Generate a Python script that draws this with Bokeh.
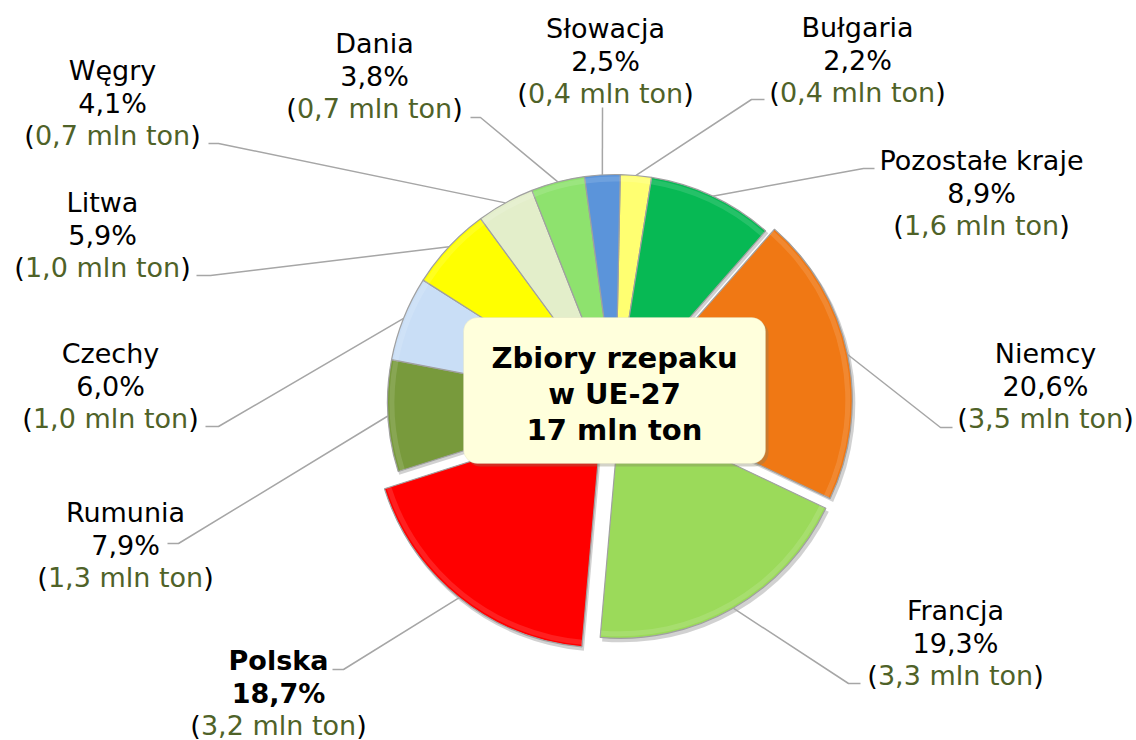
import numpy as np
from bokeh.plotting import figure
from bokeh.models import Range1d, BoxAnnotation, ColumnDataSource
from bokeh.core.properties import value
from bokeh.embed import file_html
from bokeh.resources import INLINE

# ---------------- data ----------------
countries = ["Bułgaria", "Pozostałe kraje", "Niemcy", "Francja", "Polska",
             "Rumunia", "Czechy", "Litwa", "Węgry", "Dania", "Słowacja"]
shares = [2.2, 8.9, 20.6, 19.3, 18.7, 7.9, 6.0, 5.9, 4.1, 3.8, 2.5]
tons = [0.4, 1.6, 3.5, 3.3, 3.2, 1.3, 1.0, 1.0, 0.7, 0.7, 0.4]
title_lines = ["Zbiory rzepaku", "w UE-27", "17 mln ton"]

# ---------------- styles ----------------
colors = ["#FFFF71", "#07B954", "#F07814", "#9BDA5A", "#FF0000",
          "#789A3C", "#C9DEF6", "#FFFF00", "#E3EECA", "#8EE26E", "#5B94DA"]
explode = [0, 0, 9, 9, 22, 0, 0, 0, 0, 0, 0]
bold_head = [False, False, False, False, True, False, False, False, False, False, False]

# ---------------- layout (reference pixel space) ----------------
W_PX, H = 1136, 740
CX, CY, R = 615, 402, 228
ROT = 1.2
FS = 27
LS = 32.5
label_x = [857, 981, 1045, 955, 278, 125, 110, 102, 112, 374, 605]
label_y = [27, 160, 353, 610, 660, 512, 353, 202, 70, 43, 28]
lead_start = [(764, 99), (874, 168), (952, 427), (860, 683), (332, 669), (167, 543),
              (205, 426), (196, 275), (208, 143), (470, 117), (602, 107)]
lead_elbow = [(751, 99), (863, 168), (940, 427), (848, 683), (343, 669), (178, 543),
              (218, 426), (210, 275), (218, 143), (480, 117), (602, 107)]

# DejaVu Sans advance widths (em)
ADV = {"0": .636, "1": .636, "2": .636, "3": .636, "4": .636, "5": .636, "6": .636,
       "7": .636, "8": .636, "9": .636, ",": .318, " ": .318, "m": .974, "l": .278,
       "n": .634, "t": .392, "o": .612, "(": .390, ")": .390}


def tw(s):
    return sum(ADV.get(c, .6) for c in s) * FS


def Y(v):
    return H - v


p = figure(width=W_PX, height=H, output_backend="svg", toolbar_location=None,
           x_range=Range1d(0, W_PX), y_range=Range1d(0, H), min_border=0)
p.axis.visible = False
p.grid.visible = False
p.outline_line_color = None
p.background_fill_color = "white"

# ---- pie geometry from data ----
sh = np.array(shares, dtype=float)
cum = np.concatenate([[0], np.cumsum(sh)]) / sh.sum() * 360.0 + ROT
t0, t1 = cum[:-1], cum[1:]
mid = np.radians((t0 + t1) / 2)
ex = np.array(explode, dtype=float)
ax = CX + ex * np.sin(mid)
ay = Y(CY) + ex * np.cos(mid)
src = ColumnDataSource(dict(x=ax, y=ay, sa=np.radians(90 - t1), ea=np.radians(90 - t0),
                            c=colors))
sh_src = ColumnDataSource(dict(x=ax + 2, y=ay - 3, sa=np.radians(90 - t1),
                               ea=np.radians(90 - t0)))

# soft shadow
p.wedge(x="x", y="y", radius=R + 1, start_angle="sa", end_angle="ea", source=sh_src,
        fill_color="#000000", fill_alpha=0.18, line_color=None)
# slices
p.wedge(x="x", y="y", radius=R, start_angle="sa", end_angle="ea", source=src,
        fill_color="c", line_color="#A0A0A0", line_width=1.2)
# inner bevel highlight (thin lighter rim)
p.annular_wedge(x="x", y="y", inner_radius=R - 7, outer_radius=R - 2,
                start_angle="sa", end_angle="ea", source=src,
                fill_color="white", fill_alpha=0.12, line_color=None)

# ---- leader lines ----
px_end = ax + R * np.sin(mid)
py_end = ay + R * np.cos(mid)
xs, ys = [], []
for i in range(len(countries)):
    xs.append([lead_start[i][0], lead_elbow[i][0], px_end[i]])
    ys.append([Y(lead_start[i][1]), Y(lead_elbow[i][1]), py_end[i]])
p.multi_line(xs=xs, ys=ys, line_color="#A6A6A6", line_width=1.5)

# ---- labels ----
font = value("DejaVu Sans")
n_x, n_y, b_x, b_y, n_t, b_t = [], [], [], [], [], []
pl_x, pl_y, pr_x, in_x, in_t = [], [], [], [], []
for i, name in enumerate(countries):
    pct = f"{shares[i]:.1f}%".replace(".", ",")
    l1 = Y(label_y[i])
    l2 = Y(label_y[i] + LS)
    l3 = Y(label_y[i] + 2 * LS)
    if bold_head[i]:
        b_x += [label_x[i], label_x[i]]
        b_y += [l1, l2]
        b_t += [name, pct]
    else:
        n_x += [label_x[i], label_x[i]]
        n_y += [l1, l2]
        n_t += [name, pct]
    inner = f"{tons[i]:.1f} mln ton".replace(".", ",")
    full = "(" + inner + ")"
    W = tw(full)
    x0 = label_x[i] - W / 2
    pl_x.append(x0)
    pl_y.append(l3)
    in_x.append(x0 + tw("("))
    in_t.append(inner)
    pr_x.append(x0 + W - tw(")"))

p.text(x=n_x, y=n_y, text=n_t, text_font=font, text_font_size=f"{FS}px",
       text_align="center", text_baseline="middle", text_color="#000000")
p.text(x=b_x, y=b_y, text=b_t, text_font=font, text_font_size=f"{FS}px",
       text_font_style="bold", text_align="center", text_baseline="middle",
       text_color="#000000")
p.text(x=pl_x, y=pl_y, text=["("] * len(pl_x), text_font=font,
       text_font_size=f"{FS}px", text_align="left", text_baseline="middle",
       text_color="#000000")
p.text(x=in_x, y=pl_y, text=in_t, text_font=font, text_font_size=f"{FS}px",
       text_align="left", text_baseline="middle", text_color="#4F6228")
p.text(x=pr_x, y=pl_y, text=[")"] * len(pr_x), text_font=font,
       text_font_size=f"{FS}px", text_align="left", text_baseline="middle",
       text_color="#000000")

# ---- centre box ----
shadow = BoxAnnotation(left=466, right=768, bottom=Y(466), top=Y(320),
                       border_radius=14, fill_color="#808060", fill_alpha=0.35,
                       line_color=None)
box = BoxAnnotation(left=463, right=765, bottom=Y(463), top=Y(317),
                    border_radius=14, fill_color="#FFFFDC", fill_alpha=1.0,
                    line_color="#D8D8B8", line_width=1)
p.add_layout(shadow)
p.add_layout(box)
p.text(x=[614] * 3, y=[Y(357), Y(393), Y(429)], text=title_lines, text_font=font,
       text_font_size="29px", text_font_style="bold", text_align="center",
       text_baseline="middle", text_color="#000000", level="overlay")

open("out.html", "w").write(file_html(p, INLINE))
